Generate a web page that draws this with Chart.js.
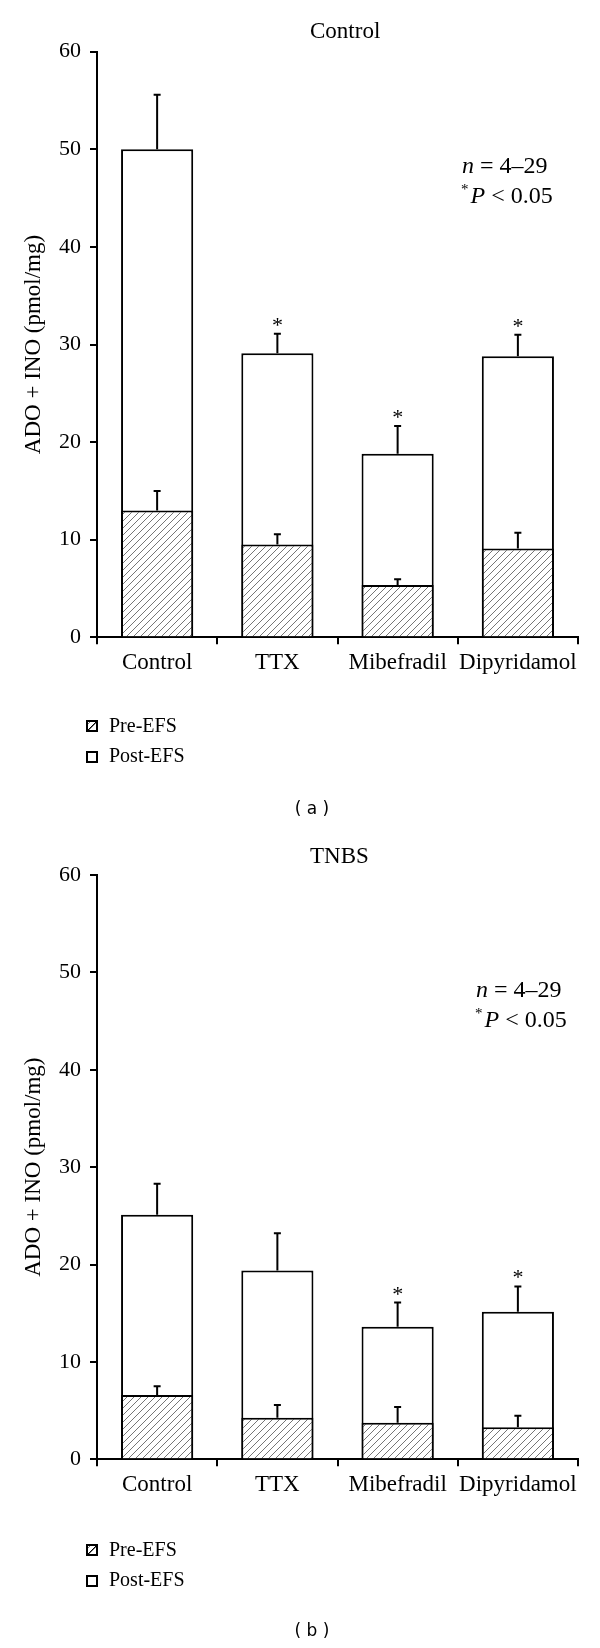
<!DOCTYPE html>
<html>
<head>
<meta charset="utf-8">
<script src="https://cdn.jsdelivr.net/npm/chart.js@4.4.0/dist/chart.umd.min.js"></script>
<style>
  html, body { margin: 0; padding: 0; background: #fff; }
  .panel { position: relative; width: 600px; height: 824px; }
</style>
</head>
<body>
<div class="panel"><canvas id="chartA"></canvas></div>
<div class="panel"><canvas id="chartB"></canvas></div>
<script>
const categories = ['Control', 'TTX', 'Mibefradil', 'Dipyridamol'];
const yTickStep = 10;
const yMax = 60;

// panel (a): Control
const controlPre = [13.0, 9.5, 5.35, 9.1];
const controlPreErr = [2.0, 1.05, 0.6, 1.6];
const controlTotal = [50.0, 29.1, 18.8, 28.8];
const controlTotalErr = [5.6, 2.0, 2.85, 2.2];
const controlSig = [false, true, true, true];

// panel (b): TNBS
const tnbsPre = [6.6, 4.27, 3.76, 3.28];
const tnbsPreErr = [0.9, 1.3, 1.6, 1.2];
const tnbsTotal = [25.1, 19.4, 13.6, 15.15];
const tnbsTotalErr = [3.2, 3.8, 2.5, 2.6];
const tnbsSig = [false, false, true, true];

const SERIF = '"Liberation Serif", "Times New Roman", serif';

function makeHatch(ctx) {
  const c = document.createElement('canvas');
  c.width = 7; c.height = 7;
  const g = c.getContext('2d');
  g.fillStyle = '#fff';
  g.fillRect(0, 0, 7, 7);
  g.strokeStyle = '#666';
  g.lineWidth = 0.9;
  g.beginPath();
  g.moveTo(0, 7); g.lineTo(7, 0);
  g.moveTo(-1, 1); g.lineTo(1, -1);
  g.moveTo(6, 8); g.lineTo(8, 6);
  g.stroke();
  return ctx.createPattern(c, 'repeat');
}

function makePanel(canvasId, cfg) {
  const ctx = document.getElementById(canvasId).getContext('2d');
  const hatch = makeHatch(ctx);

  const overlay = {
    id: 'overlay',
    afterDatasetsDraw(chart) {
      const c = chart.ctx;
      const xs = chart.scales.x, ys = chart.scales.y;
      c.save();
      c.strokeStyle = '#000';
      c.lineWidth = 2;
      categories.forEach((cat, i) => {
        const x = xs.getPixelForValue(i);
        const pairs = [[cfg.pre[i], cfg.preErr[i]], [cfg.total[i], cfg.totalErr[i]]];
        pairs.forEach(([v, e]) => {
          const y0 = ys.getPixelForValue(v);
          const y1 = ys.getPixelForValue(v + e);
          c.beginPath();
          c.moveTo(x, y0); c.lineTo(x, y1);
          c.moveTo(x - 3.5, y1); c.lineTo(x + 3.5, y1);
          c.stroke();
        });
        if (cfg.sig[i]) {
          const yTop = ys.getPixelForValue(cfg.total[i] + cfg.totalErr[i]);
          c.fillStyle = '#000';
          c.font = '22px ' + SERIF;
          c.textAlign = 'center';
          c.textBaseline = 'alphabetic';
          c.fillText('*', x, yTop - 2);
        }
      });
      c.restore();
    },
    afterDraw(chart) {
      const c = chart.ctx;
      c.save();
      c.fillStyle = '#000';
      c.textBaseline = 'middle';
      c.textAlign = 'left';

      // panel title
      c.font = '23px ' + SERIF;
      c.fillText(cfg.title, 310, cfg.titleY);

      // n and P annotation
      let x = cfg.noteX;
      c.font = 'italic 24px ' + SERIF;
      c.fillText('n', x, 167);
      x += c.measureText('n').width;
      c.font = '24px ' + SERIF;
      c.fillText(' = 4\u201329', x, 167);

      x = cfg.noteX - 1;
      c.font = '15px ' + SERIF;
      c.fillText('*', x, 190);
      x += c.measureText('*').width + 2;
      c.font = 'italic 24px ' + SERIF;
      c.fillText('P', x, 197);
      x += c.measureText('P').width;
      c.font = '24px ' + SERIF;
      c.fillText(' < 0.05', x, 197);

      // legend
      c.lineWidth = 2;
      c.strokeStyle = '#000';
      c.fillStyle = hatch;
      c.fillRect(87, 721, 10, 10);
      c.strokeRect(87, 721, 10, 10);
      c.beginPath();
      c.moveTo(88, 730); c.lineTo(96, 722);
      c.lineWidth = 1;
      c.stroke();
      c.lineWidth = 2;
      c.fillStyle = '#fff';
      c.fillRect(87, 752, 10, 10);
      c.strokeRect(87, 752, 10, 10);
      c.fillStyle = '#000';
      c.font = '20px ' + SERIF;
      c.fillText('Pre-EFS', 109, 727);
      c.fillText('Post-EFS', 109, 757);

      // caption
      c.font = '17px "DejaVu Sans", sans-serif';
      c.textAlign = 'center';
      c.fillText(cfg.caption, 312, cfg.captionY);
      c.restore();
    }
  };

  return new Chart(ctx, {
    type: 'bar',
    data: {
      labels: categories,
      datasets: [
        {
          label: 'Pre-EFS',
          data: cfg.pre,
          backgroundColor: hatch,
          borderColor: '#000',
          borderWidth: 2,
          borderSkipped: 'start',
          grouped: false,
          barPercentage: 0.6,
          categoryPercentage: 1
        },
        {
          label: 'Post-EFS',
          data: cfg.total,
          backgroundColor: '#fff',
          borderColor: '#000',
          borderWidth: 2,
          borderSkipped: 'start',
          grouped: false,
          barPercentage: 0.6,
          categoryPercentage: 1
        }
      ]
    },
    options: {
      responsive: true,
      maintainAspectRatio: false,
      animation: false,
      layout: { padding: { top: cfg.top, right: 22, left: 0, bottom: 0 } },
      plugins: {
        legend: { display: false },
        tooltip: { enabled: false },
        title: { display: false }
      },
      scales: {
        x: {
          grid: {
            display: true,
            drawOnChartArea: false,
            drawTicks: true,
            tickLength: 7,
            color: '#000',
            lineWidth: 2,
            offset: true
          },
          border: { display: true, color: '#000', width: 2 },
          ticks: {
            color: '#000',
            font: { family: SERIF, size: 23 },
            padding: 5,
            maxRotation: 0,
            autoSkip: false
          },
          afterFit: (s) => { s.height = cfg.xh; }
        },
        y: {
          min: 0,
          max: yMax,
          ticks: {
            stepSize: yTickStep,
            color: '#000',
            font: { family: SERIF, size: 22 },
            padding: 9
          },
          grid: {
            drawOnChartArea: false,
            drawTicks: true,
            tickLength: 7,
            color: '#000',
            lineWidth: 2
          },
          border: { display: true, color: '#000', width: 2 },
          title: {
            display: true,
            text: 'ADO + INO (pmol/mg)',
            color: '#000',
            font: { family: SERIF, size: 23 },
            padding: { top: 20, bottom: 0 }
          },
          afterFit: (s) => { s.width = 97; }
        }
      }
    },
    plugins: [overlay]
  });
}

makePanel('chartA', {
  pre: controlPre, preErr: controlPreErr,
  total: controlTotal, totalErr: controlTotalErr, sig: controlSig,
  title: 'Control', titleY: 32, noteX: 462,
  caption: '( a )', captionY: 810,
  top: 51.7, xh: 186.7
});

makePanel('chartB', {
  pre: tnbsPre, preErr: tnbsPreErr,
  total: tnbsTotal, totalErr: tnbsTotalErr, sig: tnbsSig,
  title: 'TNBS', titleY: 33, noteX: 476,
  caption: '( b )', captionY: 808,
  top: 51, xh: 188.7
});
</script>
</body>
</html>
